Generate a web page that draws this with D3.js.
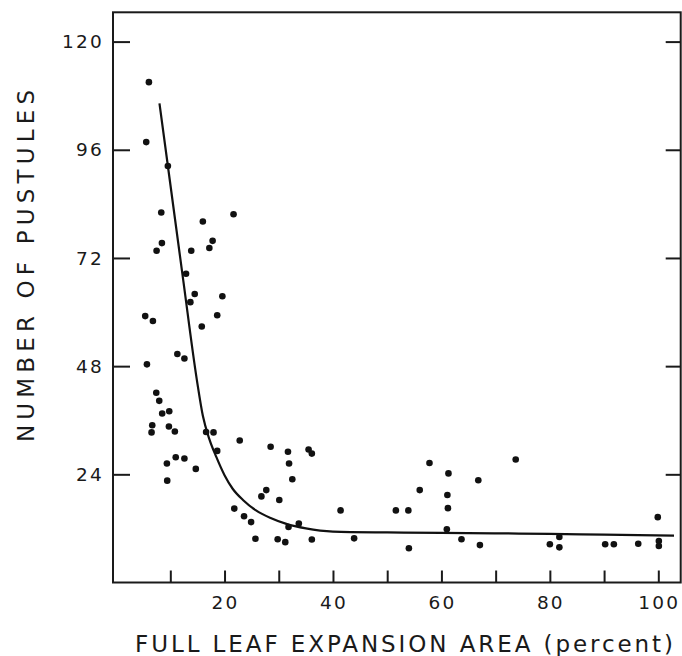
<!DOCTYPE html>
<html>
<head>
<meta charset="utf-8">
<script src="https://cdn.jsdelivr.net/npm/d3@7"></script>
<style>
  body { margin: 0; background: #fff; }
  svg { display: block; }
  text { font-family: "DejaVu Sans", sans-serif; fill: #1a1a1a; }
</style>
</head>
<body>
<div id="chart"></div>
<script>
// observed points: leaf expansion (%) vs pustule count
const leafArea = [
  6.05, 5.56, 9.55, 8.33, 16.0, 21.66, 8.45, 17.8, 7.47, 13.86, 17.2, 12.9, 14.5, 19.6, 13.7,
  5.37, 6.79, 18.65, 15.8, 11.3, 12.6, 5.69, 7.41, 7.96, 8.5, 9.8, 6.67, 6.54, 9.74, 10.84,
  16.6, 17.97, 22.8, 18.65, 28.5, 31.7, 31.9, 32.5, 11.0, 12.6, 9.37, 14.7, 9.43, 27.7, 26.8,
  30.1, 21.8, 23.6, 24.9, 31.8, 33.7, 25.7, 29.8, 31.2, 35.5, 36.1, 41.4, 36.1, 43.9, 51.6,
  53.9, 54.0, 56.0, 57.8, 61.3, 61.1, 61.2, 61.0, 63.7, 66.8, 67.1, 73.7, 80.0, 81.75, 81.75,
  90.2, 91.8, 96.3, 99.9, 100.1, 100.1
];
const pustules = [
  111.0, 97.7, 92.4, 82.1, 80.1, 81.7, 75.3, 75.8, 73.6, 73.6, 74.2, 68.5, 64.0, 63.5, 62.2,
  59.1, 58.0, 59.3, 56.8, 50.7, 49.7, 48.4, 42.1, 40.3, 37.5, 38.0, 34.9, 33.3, 34.6, 33.5,
  33.4, 33.3, 31.5, 29.2, 30.1, 29.0, 26.4, 22.9, 27.8, 27.5, 26.4, 25.2, 22.6, 20.5, 19.1,
  18.3, 16.4, 14.7, 13.4, 12.3, 13.1, 9.7, 9.6, 8.95, 29.5, 28.6, 16.0, 9.55, 9.8, 16.0,
  16.0, 7.6, 20.5, 26.5, 24.2, 19.4, 16.5, 11.8, 9.6, 22.7, 8.3, 27.3, 8.5, 10.1, 7.8,
  8.5, 8.5, 8.6, 14.5, 9.2, 8.1
];

// fitted curve
const curveX = [8.0, 9.9, 12.4, 14.9, 16.0, 17.2, 18.5, 20.0, 21.5, 23.5, 25.8, 28.5, 31.4, 35, 40, 50, 60, 70, 80, 90, 102.9];
const curveY = [106.3, 89.3, 66.9, 44.9, 37.0, 31.8, 27.8, 23.8, 20.8, 18.2, 16.0, 14.3, 13.0, 12.0, 11.3, 11.1, 11.0, 10.9, 10.8, 10.6, 10.4];

const yTicks = [24, 48, 72, 96, 120];
const xTicks = [10, 20, 30, 40, 50, 60, 70, 80, 90, 100];
const xTickLabels = [20, 40, 60, 80, 100];

const svgWidth = 682;
const svgHeight = 656;
const frame = { left: 113, right: 680.7, top: 12.3, bottom: 582.5 };

const svg = d3.select("#chart")
  .append("svg")
  .attr("width", svgWidth)
  .attr("height", svgHeight);

const x = d3.scaleLinear()
  .domain([-0.57, 104.13])
  .range([frame.left, frame.right]);

const y = d3.scaleLinear()
  .domain([0, 126.5])
  .range([frame.bottom, frame.top]);

// frame
svg.append("rect")
  .attr("x", frame.left)
  .attr("y", frame.top)
  .attr("width", frame.right - frame.left)
  .attr("height", frame.bottom - frame.top)
  .attr("fill", "none")
  .attr("stroke", "#1a1a1a")
  .attr("stroke-width", 2);

// bottom ticks (inward), labels only every 20
const bottomAxis = svg.append("g")
  .attr("transform", `translate(0, ${frame.bottom})`)
  .call(d3.axisTop(x).tickValues(xTicks).tickSize(12).tickFormat(""));
bottomAxis.select(".domain").remove();
bottomAxis.selectAll("line").attr("stroke", "#1a1a1a").attr("stroke-width", 2);

svg.append("g").selectAll("text")
  .data(xTickLabels)
  .enter()
  .append("text")
  .attr("x", d => x(d) + 1)
  .attr("y", 608.5)
  .attr("text-anchor", "middle")
  .style("font-size", "18.5px")
  .style("letter-spacing", "2.2px")
  .text(d => d);

// left ticks (inward)
const leftAxis = svg.append("g")
  .attr("transform", `translate(${frame.left}, 0)`)
  .call(d3.axisRight(y).tickValues(yTicks).tickSize(17).tickFormat(""));
leftAxis.select(".domain").remove();
leftAxis.selectAll("line").attr("stroke", "#1a1a1a").attr("stroke-width", 2);

svg.append("g").selectAll("text")
  .data(yTicks)
  .enter()
  .append("text")
  .attr("x", 104)
  .attr("y", d => y(d) + 6.7)
  .attr("text-anchor", "end")
  .style("font-size", "18.5px")
  .style("letter-spacing", "2.2px")
  .text(d => d);

// right ticks (inward)
const rightAxis = svg.append("g")
  .attr("transform", `translate(${frame.right}, 0)`)
  .call(d3.axisLeft(y).tickValues(yTicks).tickSize(15).tickFormat(""));
rightAxis.select(".domain").remove();
rightAxis.selectAll("line").attr("stroke", "#1a1a1a").attr("stroke-width", 2);

// curve
const curvePts = curveX.map((d, i) => [d, curveY[i]]);
svg.append("path")
  .datum(curvePts)
  .attr("fill", "none")
  .attr("stroke", "#111")
  .attr("stroke-width", 2.2)
  .attr("d", d3.line()
    .x(d => x(d[0]))
    .y(d => y(d[1]))
    .curve(d3.curveMonotoneX));

// dots
const points = leafArea.map((d, i) => ({ area: d, count: pustules[i] }));
svg.append("g").selectAll("circle")
  .data(points)
  .enter()
  .append("circle")
  .attr("cx", d => x(d.area))
  .attr("cy", d => y(d.count))
  .attr("r", 3.3)
  .attr("fill", "#111");

// axis titles
svg.append("text")
  .attr("x", 135)
  .attr("y", 652)
  .attr("textLength", 538)
  .attr("lengthAdjust", "spacing")
  .style("font-size", "23px")
  .text("FULL LEAF EXPANSION AREA (percent)");

svg.append("text")
  .attr("transform", "translate(34, 442) rotate(-90)")
  .attr("x", 0)
  .attr("y", 0)
  .attr("textLength", 352)
  .attr("lengthAdjust", "spacing")
  .style("font-size", "23px")
  .text("NUMBER OF PUSTULES");
</script>
</body>
</html>
